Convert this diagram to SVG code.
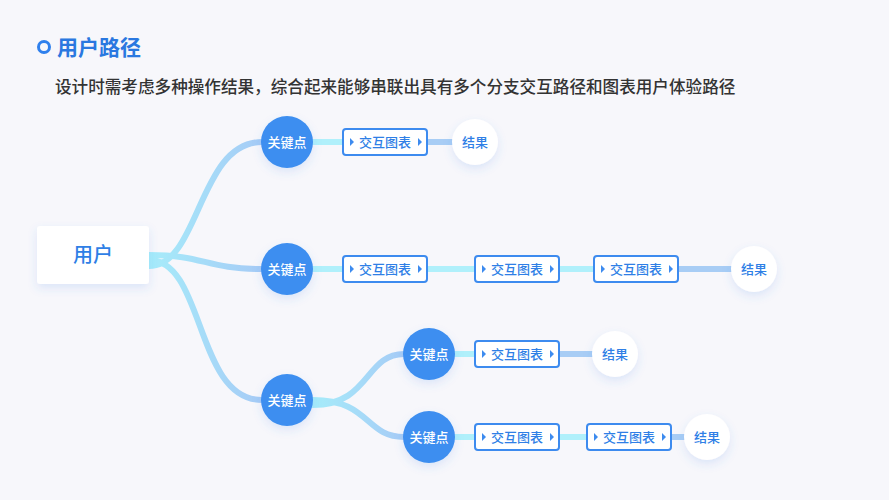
<svg xmlns="http://www.w3.org/2000/svg" width="889" height="500" viewBox="0 0 889 500">
<defs>
<linearGradient id="g" x1="0" y1="0" x2="1" y2="0"><stop offset="0" stop-color="#a6ecfa"/><stop offset="1" stop-color="#a6cbf6"/></linearGradient>
<filter id="sh" x="-50%" y="-50%" width="200%" height="200%"><feDropShadow dx="0" dy="4" stdDeviation="5" flood-color="#3d7fe8" flood-opacity="0.15"/></filter>
</defs>
<style>
.f{font-family:"Noto Sans CJK SC","Noto Sans",sans-serif}
.kp circle{fill:#3c8ef0;filter:url(#sh)}
.kp text{fill:#fff;font-size:13px;text-anchor:middle;font-weight:500}
.ch rect{fill:#fff;stroke:#3d8bef;stroke-width:2}
.ch text{fill:#2f7fe6;font-size:13px;text-anchor:middle;font-weight:500}
.ch path{fill:#3d8bef}
.rs circle{fill:#fff;filter:url(#sh)}
.rs text{fill:#2f7fe6;font-size:13px;text-anchor:middle;font-weight:500}
.c path{fill:none;stroke-width:6;stroke-linecap:round}
.cy{stroke:#b0f0fb}.bl{stroke:#a8cdf5}.gr{stroke:url(#g)}
</style>
<rect width="889" height="500" fill="#f7f7fb"/>
<circle cx="44" cy="47" r="5.5" fill="none" stroke="#2f80ed" stroke-width="3"/>
<text class="f" x="57" y="55" font-size="21" font-weight="bold" fill="#2a78e0">用户路径</text>
<text class="f" x="55" y="93" font-size="16.6" font-weight="500" fill="#333">设计时需考虑多种操作结果，综合起来能够串联出具有多个分支交互路径和图表用户体验路径</text>
<g class="c">
<path class="gr" d="M149,266 C200,266 198,142 262,142"/>
<path class="gr" d="M149,255 C205,255 205,269 262,269"/>
<path class="gr" d="M149,260 C205,260 195,400 262,400"/>
<path class="gr" d="M313,405 C370,405 365,354 404,354"/>
<path class="gr" d="M313,400 C370,400 365,437 404,437"/>
<path class="cy" d="M313,142H343M313,269H343M427,269H475M559,269H594M455,354H475M455,437H475M559,437H587"/>
<path class="bl" d="M427,142H452M678,269H732M559,354H593M671,437H685"/>
</g>
<g id="user" class="f"><rect x="37" y="226" width="112" height="58" rx="3" fill="#fff" filter="url(#sh)"/><text x="93" y="262" font-size="20" font-weight="500" fill="#2f7fe6" text-anchor="middle">用户</text></g>
<g id="kp1" class="kp f"><circle cx="287" cy="142" r="26"/><text x="287" y="147">关键点</text></g>
<g id="kp2" class="kp f"><circle cx="287" cy="269" r="26"/><text x="287" y="274">关键点</text></g>
<g id="kp3" class="kp f"><circle cx="287" cy="400" r="26"/><text x="287" y="405">关键点</text></g>
<g id="kp4" class="kp f"><circle cx="429" cy="354" r="26"/><text x="429" y="359">关键点</text></g>
<g id="kp5" class="kp f"><circle cx="429" cy="437" r="26"/><text x="429" y="442">关键点</text></g>
<g id="ch1" class="ch f"><rect x="343" y="129" width="84" height="26" rx="3"/><path d="M350,138l4,4l-4,4z M418,138l4,4l-4,4z"/><text x="385" y="147">交互图表</text></g>
<g id="ch2" class="ch f"><rect x="343" y="256" width="84" height="26" rx="3"/><path d="M350,265l4,4l-4,4z M418,265l4,4l-4,4z"/><text x="385" y="274">交互图表</text></g>
<g id="ch3" class="ch f"><rect x="475" y="256" width="84" height="26" rx="3"/><path d="M482,265l4,4l-4,4z M550,265l4,4l-4,4z"/><text x="517" y="274">交互图表</text></g>
<g id="ch4" class="ch f"><rect x="594" y="256" width="84" height="26" rx="3"/><path d="M601,265l4,4l-4,4z M669,265l4,4l-4,4z"/><text x="636" y="274">交互图表</text></g>
<g id="ch5" class="ch f"><rect x="475" y="341" width="84" height="26" rx="3"/><path d="M482,350l4,4l-4,4z M550,350l4,4l-4,4z"/><text x="517" y="359">交互图表</text></g>
<g id="ch6" class="ch f"><rect x="475" y="424" width="84" height="26" rx="3"/><path d="M482,433l4,4l-4,4z M550,433l4,4l-4,4z"/><text x="517" y="442">交互图表</text></g>
<g id="ch7" class="ch f"><rect x="587" y="424" width="84" height="26" rx="3"/><path d="M594,433l4,4l-4,4z M662,433l4,4l-4,4z"/><text x="629" y="442">交互图表</text></g>
<g id="r1" class="rs f"><circle cx="475" cy="142" r="23"/><text x="475" y="147">结果</text></g>
<g id="r2" class="rs f"><circle cx="754" cy="269" r="23"/><text x="754" y="274">结果</text></g>
<g id="r3" class="rs f"><circle cx="615" cy="354" r="23"/><text x="615" y="359">结果</text></g>
<g id="r4" class="rs f"><circle cx="707" cy="437" r="23"/><text x="707" y="442">结果</text></g>
</svg>
